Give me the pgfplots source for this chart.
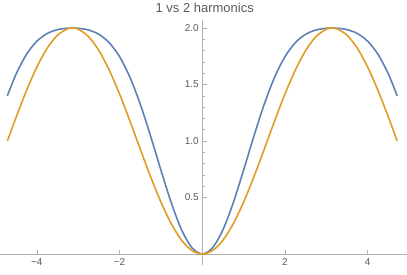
\documentclass[border=0pt]{standalone}
\usepackage{fontspec}
\setmainfont{Liberation Sans}
\usepackage{pgfplots}
\pgfplotsset{compat=1.18}
\usetikzlibrary{calc}
\definecolor{MBlue}{RGB}{94,129,181}
\definecolor{MOrange}{RGB}{225,156,36}
\definecolor{AxGray}{RGB}{178,178,178}
\definecolor{LabGray}{RGB}{90,90,90}
\begin{document}
\begin{tikzpicture}
\begin{axis}[
    name=ax,
    scale only axis,
    width=407pt,
    height=245.2pt,
    xmin=-4.89, xmax=4.95,
    ymin=-0.1, ymax=2.07,
    axis lines=middle,
    axis line style={draw=AxGray, line width=0.6pt, -},
    xtick={-4,-2,2,4},
    xticklabels={−4,−2,2,4},
    ytick={0.5,1,1.5,2},
    yticklabels={0.5,1.0,1.5,2.0},
    minor x tick num=3,
    minor y tick num=4,
    tick align=inside,
    major tick length=4.5pt,
    minor tick length=2.5pt,
    tick style={draw=AxGray, line width=0.5pt},
    tick label style={font=\fontsize{10}{12}\selectfont, text=LabGray},
    xticklabel style={yshift=-1pt},
    clip=false
]
\addplot[MBlue, line width=1.6pt, smooth] coordinates {
    (-4.712,1.4000) (-4.5,1.5930) (-4.25,1.7665) (-4.0,1.8827) (-3.75,1.9513)
    (-3.5,1.9857) (-3.25,1.9988) (-3.1416,2.0000) (-3.0,1.9980) (-2.75,1.9826)
    (-2.5,1.9444) (-2.25,1.8704) (-2.0,1.7468) (-1.75,1.5655) (-1.5,1.3273)
    (-1.25,1.0449) (-1.0,0.7429) (-0.75,0.4542) (-0.5,0.2143) (-0.25,0.0556)
    (0,0)
    (0.25,0.0556) (0.5,0.2143) (0.75,0.4542) (1.0,0.7429) (1.25,1.0449)
    (1.5,1.3273) (1.75,1.5655) (2.0,1.7468) (2.25,1.8704) (2.5,1.9444)
    (2.75,1.9826) (3.0,1.9980) (3.1416,2.0000) (3.25,1.9988) (3.5,1.9857)
    (3.75,1.9513) (4.0,1.8827) (4.25,1.7665) (4.5,1.5930) (4.712,1.4000)
};
\addplot[MOrange, line width=1.6pt, smooth] coordinates {
    (-4.712,1.0000) (-4.5,1.2108) (-4.25,1.4461) (-4.0,1.6536) (-3.75,1.8206)
    (-3.5,1.9365) (-3.25,1.9941) (-3.1416,2.0000) (-3.0,1.9900) (-2.75,1.9243)
    (-2.5,1.8011) (-2.25,1.6282) (-2.0,1.4161) (-1.75,1.1782) (-1.5,0.9293)
    (-1.25,0.6847) (-1.0,0.4597) (-0.75,0.2683) (-0.5,0.1224) (-0.25,0.0311)
    (0,0)
    (0.25,0.0311) (0.5,0.1224) (0.75,0.2683) (1.0,0.4597) (1.25,0.6847)
    (1.5,0.9293) (1.75,1.1782) (2.0,1.4161) (2.25,1.6282) (2.5,1.8011)
    (2.75,1.9243) (3.0,1.9900) (3.1416,2.0000) (3.25,1.9941) (3.5,1.9365)
    (3.75,1.8206) (4.0,1.6536) (4.25,1.4461) (4.5,1.2108) (4.712,1.0000)
};
\end{axis}
\node[anchor=base, inner sep=0pt, font=\fontsize{13}{15}\selectfont, text=LabGray]
    at ($(ax.south west)+(204.7pt,252.6pt)$) {1 vs 2 harmonics};
\pgfresetboundingbox
\useasboundingbox ($(ax.south west)+(0pt,-8.7pt)$) rectangle ($(ax.south west)+(407pt,265.3pt)$);
\end{tikzpicture}
\end{document}
